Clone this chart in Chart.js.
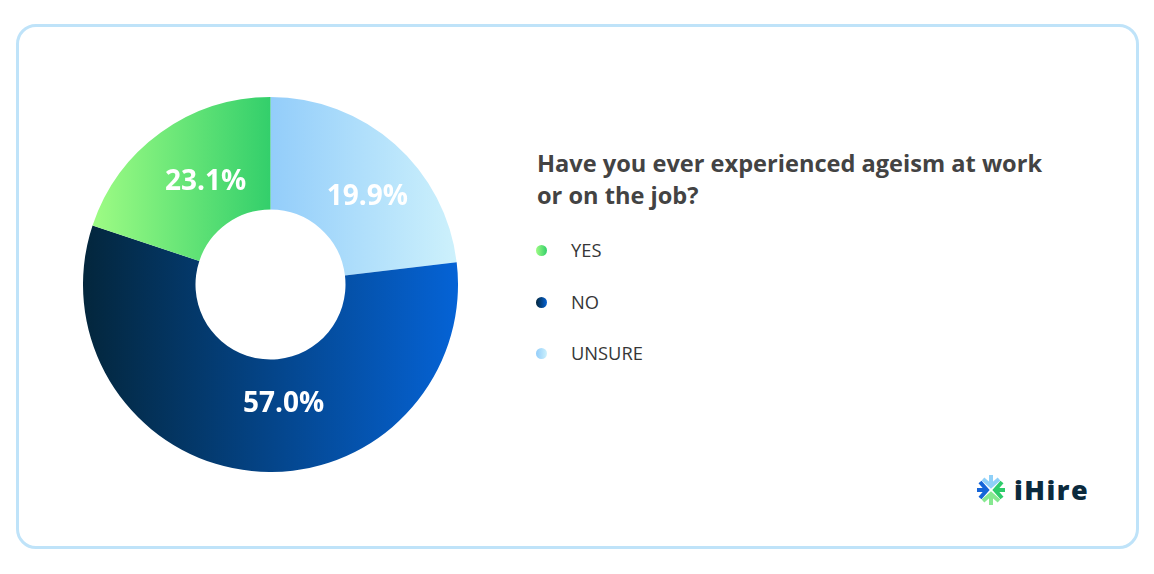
<!DOCTYPE html>
<html>
<head>
<meta charset="utf-8">
<script src="https://cdn.jsdelivr.net/npm/chart.js@4.4.1/dist/chart.umd.min.js"></script>
<style>
  body { margin: 0; width: 1154px; height: 574px; background: #fff; font-family: "Open Sans", sans-serif; position: relative; overflow: hidden; }
  .card { position: absolute; left: 16px; top: 24px; width: 1117px; height: 519px; border: 3px solid #bfe3f9; border-radius: 20px; }
  #wrap { position: absolute; left: 83px; top: 97px; width: 375px; height: 375px; }
  .title { position: absolute; left: 537px; top: 147px; font-size: 23.6px; font-weight: 700; line-height: 32px; color: #434343; }
  .legend { position: absolute; left: 536px; top: 237px; }
  .item { height: 51.5px; display: flex; align-items: flex-start; font-size: 18.3px; color: #363636; }
  .dot { width: 11px; height: 11px; border-radius: 50%; margin-top: 8px; margin-right: 24px; }
  .logo { position: absolute; left: 977px; top: 475px; display: flex; align-items: center; }
  .logo span { font-family: "Open Sans", sans-serif; font-weight: 800; font-size: 27px; letter-spacing: 1.5px; color: #0b2a3d; margin-left: 9px; line-height: 30px; }
</style>
</head>
<body>
<div class="card"></div>
<div id="wrap"><canvas id="ageism"></canvas></div>
<div class="title">Have you ever experienced ageism at work<br>or on the job?</div>
<div class="legend" id="legend"></div>
<div class="logo">
  <svg width="28" height="30" viewBox="0 0 28 30">
    <g fill="none" stroke-width="4" stroke-linecap="butt">
      <path d="M14 0 V9 M6 4 L14 11 L22 4" stroke="#8fd0f8"/>
      <path d="M14 30 V21 M6 26 L14 19 L22 26" stroke="#86e890"/>
      <path d="M0 15 H8 M3 7 L10 15 L3 23" stroke="#1565d8"/>
      <path d="M28 15 H20 M25 7 L18 15 L25 23" stroke="#2ecc6a"/>
    </g>
  </svg>
  <span>iHire</span>
</div>
<script>
// clockwise from the top, as drawn
const categories = ["UNSURE", "NO", "YES"];
// slice sizes as drawn in the original (its printed labels on UNSURE and YES are swapped)
const sliceSizes = [23.1, 57.0, 19.9];
const shareLabels = ["19.9%", "57.0%", "23.1%"];
const gradFrom = ["#93cdfa", "#03263c", "#9efc84"];
const gradTo = ["#cdf1fc", "#0563d6", "#33cf6b"];

// legend lists them the other way round
const legendOrder = [2, 1, 0];
const legendEl = document.getElementById("legend");
legendOrder.forEach(i => {
  const row = document.createElement("div");
  row.className = "item";
  row.innerHTML = '<div class="dot" style="background:linear-gradient(90deg,' + gradFrom[i] + ',' + gradTo[i] + ')"></div>' + categories[i];
  legendEl.appendChild(row);
});

const total = sliceSizes.reduce((a, b) => a + b, 0);

function segmentGradient(context) {
  const chart = context.chart;
  const area = chart.chartArea;
  const i = context.dataIndex;
  if (!area) return gradTo[i];
  const cx = (area.left + area.right) / 2;
  const r = Math.min(area.right - area.left, area.bottom - area.top) / 2;
  const rIn = r * 0.4;
  let before = 0;
  for (let k = 0; k < i; k++) before += sliceSizes[k];
  const a0 = before / total * Math.PI * 2;
  const a1 = (before + sliceSizes[i]) / total * Math.PI * 2;
  let minX = Infinity, maxX = -Infinity;
  for (let s = 0; s <= 60; s++) {
    const a = a0 + (a1 - a0) * s / 60;
    [r, rIn].forEach(rr => {
      const x = cx + rr * Math.sin(a);
      minX = Math.min(minX, x);
      maxX = Math.max(maxX, x);
    });
  }
  const g = chart.ctx.createLinearGradient(minX, 0, maxX, 0);
  g.addColorStop(0, gradFrom[i]);
  g.addColorStop(1, gradTo[i]);
  return g;
}

// the original does not centre its labels in the slices
const labelTurn = [6.5, -12, 3.4];
const labelPull = [-1, -11, -10];

const sliceLabels = {
  id: "sliceLabels",
  afterDatasetsDraw(chart) {
    const { ctx } = chart;
    const meta = chart.getDatasetMeta(0);
    meta.data.forEach((arc, index) => {
      const p = arc.getProps(["x", "y", "startAngle", "endAngle", "innerRadius", "outerRadius"], true);
      const mid = (p.startAngle + p.endAngle) / 2 + labelTurn[index] * Math.PI / 180;
      const rr = (p.innerRadius + p.outerRadius) / 2 + labelPull[index];
      ctx.save();
      ctx.font = "bold 28px 'Open Sans'";
      ctx.fillStyle = "#fff";
      ctx.textAlign = "center";
      ctx.textBaseline = "middle";
      ctx.fillText(shareLabels[index], p.x + rr * Math.cos(mid), p.y + rr * Math.sin(mid));
      ctx.restore();
    });
  }
};

new Chart(document.getElementById("ageism"), {
  type: "doughnut",
  data: {
    labels: categories,
    datasets: [{
      data: sliceSizes,
      backgroundColor: segmentGradient,
      borderWidth: 0
    }]
  },
  options: {
    responsive: true,
    maintainAspectRatio: false,
    animation: false,
    cutout: "40%",
    layout: { padding: 0 },
    plugins: {
      legend: { display: false },
      tooltip: { enabled: false }
    }
  },
  plugins: [sliceLabels]
});
</script>
</body>
</html>
